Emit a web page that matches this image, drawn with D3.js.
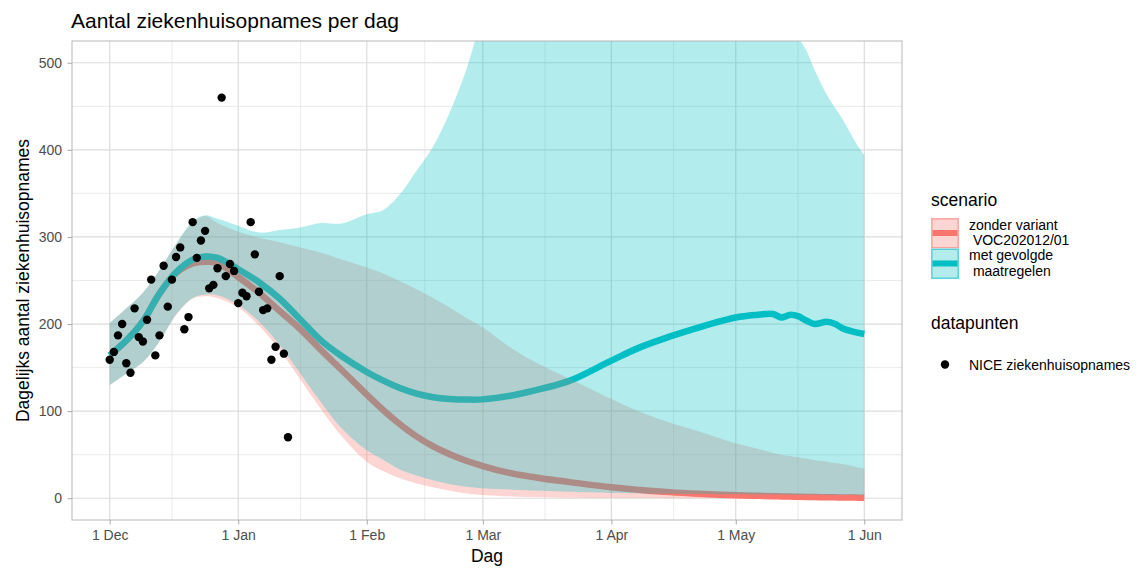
<!DOCTYPE html>
<html><head><meta charset="utf-8">
<script src="https://cdn.jsdelivr.net/npm/d3@7"></script>
<style>
body{margin:0;background:#fff}
svg{display:block}
text{font-family:"Liberation Sans",Arial,Helvetica,sans-serif}
</style>
</head><body>
<svg id="c" width="1140" height="568"></svg>
<script>
// ---------- data ----------
const startDate = [2020, 11, 1]; // 1 Dec 2020 (UTC)
// NICE daily hospital admissions, one per day from 1 Dec
const admissions = [159,168,187,200,155,144,218,185,180,205,251,164,187,267,220,251,277,288,194,208,317,276,296,307,241,245,264,460,255,269,261,224,236,232,317,280,237,216,218,159,174,255,166,70];
// model output, days after 1 Dec
const modelDays = [0,4,8,12,16,20,23,26,31,36,41,46,51,56,62,66,70,74,78,82,86,90,97,104,111,121,128,135,142,151,156,160,162,164,166,168,170,173,175,177,180,182];
const zonderLine = [164,181,203,235,258.5,269.5,271.5,270,254,236,215,194,170,147,119,101,85,71,59.5,50.5,43,37,28.5,23,18.5,12.5,9.5,7,5.2,3.5,2.8,2.3,2.1,1.9,1.7,1.5,1.3,1.1,1,0.9,0.7,0.6];
const zonderLow  = [130,143,156,180,210,229,232,230,219,198,170,136,102,71,42,31,23,17,12.5,8.5,5.5,3.8,2,1.2,0.6,0.3,0.2,0.1,0.1,0,0,0,0,0,0,0,0,0,0,0,0,0];
const zonderHigh = [201,218,236,262,292,316,324,316,306,299,294,288,282,274,265,258,249,240,230,219,207,196,172,153,137,114,99,87,77,63,57,52,50,48.5,47,45.5,44,42,40.5,39,36,34];
const metLine    = [164,181,203,235,259.5,274,277.5,276,263,248,229,205,181,163,145,135,126.5,120,116,114,113.3,113.5,118,125.5,135,158,173.5,185.5,196,207.5,210.5,211.5,207.5,210.5,209,204,200,202.5,200,194.5,190.5,188.5];
const metLow     = [130,143,156,180,211,230,234,233,222,203,176,143,110,80,55,44,33,26,20.5,16,13.2,11.5,9.8,8.5,7.4,6,5.5,5.1,4.8,4.5,4.3,4.2,4.1,4.1,4,4,3.9,3.8,3.7,3.6,3.5,3.4];
const metHigh    = [201,218,236,262,292,318,325,321,313,305,308,311,316,315.5,326,331,349,376,404,443,492,555,640,700,740,760,760,750,720,660,620,580,565,550,530,514.5,492,463,448,433,408,394];
const xTickDays   = [0,31,62,90,121,151,182];
const xTickLabels = ["1 Dec","1 Jan","1 Feb","1 Mar","1 Apr","1 May","1 Jun"];
const yTicks      = [0,100,200,300,400,500];
const yMinorTicks = [50,150,250,350,450];
const scenarioNames  = [["zonder variant"," VOC202012/01"],["met gevolgde"," maatregelen"]];
const scenarioColors = ["#F8766D","#00BFC4"];

// ---------- layout ----------
const P = {l:72, r:902, t:41, b:520};
const day = d => new Date(Date.UTC(startDate[0], startDate[1], startDate[2] + d));
const d0 = day(0), d1 = day(182);
const ext = (d1 - d0) * 0.05;
const x = d3.scaleUtc().domain([new Date(+d0 - ext), new Date(+d1 + ext)]).range([P.l, P.r]);
const y = d3.scaleLinear().domain([-25, 525]).range([P.b, P.t]);

const svg = d3.select("#c");
svg.append("rect").attr("width",1140).attr("height",568).attr("fill","#fff");

// grid
const g = svg.append("g");
const minorX = xTickDays.slice(1).map((d,i)=> (d + xTickDays[i]) / 2);
g.selectAll(".mx").data(minorX).join("line")
  .attr("x1",d=>x(day(d))).attr("x2",d=>x(day(d))).attr("y1",P.t).attr("y2",P.b)
  .attr("stroke","#e3e3e3").attr("stroke-width",0.7);
g.selectAll(".my").data(yMinorTicks).join("line")
  .attr("x1",P.l).attr("x2",P.r).attr("y1",d=>y(d)).attr("y2",d=>y(d))
  .attr("stroke","#e3e3e3").attr("stroke-width",0.7);
g.selectAll(".Mx").data(xTickDays).join("line")
  .attr("x1",d=>x(day(d))).attr("x2",d=>x(day(d))).attr("y1",P.t).attr("y2",P.b)
  .attr("stroke","#dcdcdc").attr("stroke-width",1.2);
g.selectAll(".My").data(yTicks).join("line")
  .attr("x1",P.l).attr("x2",P.r).attr("y1",d=>y(d)).attr("y2",d=>y(d))
  .attr("stroke","#dcdcdc").attr("stroke-width",1.2);

// clip
svg.append("clipPath").attr("id","clip").append("rect")
  .attr("x",P.l).attr("y",P.t).attr("width",P.r-P.l).attr("height",P.b-P.t);
const plot = svg.append("g").attr("clip-path","url(#clip)");

const idx = d3.range(modelDays.length);
const curve = d3.curveCatmullRom.alpha(0.5);
const line = arr => d3.line().curve(curve)
  .x(i=>x(day(modelDays[i]))).y(i=>y(arr[i]))(idx);
const area = (lo,hi) => d3.area().curve(curve)
  .x(i=>x(day(modelDays[i]))).y0(i=>y(lo[i])).y1(i=>y(hi[i]))(idx);

plot.append("path").attr("d",line(zonderLine)).attr("fill","none")
  .attr("stroke",scenarioColors[0]).attr("stroke-width",6.5).attr("stroke-linejoin","round");
plot.append("path").attr("d",line(metLine)).attr("fill","none")
  .attr("stroke",scenarioColors[1]).attr("stroke-width",6.5).attr("stroke-linejoin","round");
plot.append("path").attr("d",area(zonderLow,zonderHigh))
  .attr("fill",scenarioColors[0]).attr("fill-opacity",0.3);
plot.append("path").attr("d",area(metLow,metHigh))
  .attr("fill",scenarioColors[1]).attr("fill-opacity",0.3);

plot.selectAll("circle").data(admissions).join("circle")
  .attr("cx",(v,i)=>x(day(i))).attr("cy",v=>y(v)).attr("r",4.2).attr("fill","#000");

// border
svg.append("rect").attr("x",P.l).attr("y",P.t).attr("width",P.r-P.l).attr("height",P.b-P.t)
  .attr("fill","none").attr("stroke","#b8b8b8").attr("stroke-width",1);

// axes
const ax = svg.append("g").attr("transform",`translate(0,${P.b})`)
  .call(d3.axisBottom(x).tickValues(xTickDays.map(day)).tickFormat((d,i)=>xTickLabels[i]).tickSize(4.5).tickPadding(6));
const ay = svg.append("g").attr("transform",`translate(${P.l},0)`)
  .call(d3.axisLeft(y).tickValues(yTicks).tickFormat(d3.format("d")).tickSize(4.5).tickPadding(5.5));
[ax,ay].forEach(a=>{
  a.select(".domain").remove();
  a.selectAll(".tick line").attr("stroke","#a8a8a8");
  a.selectAll(".tick text").attr("fill","#4d4d4d").style("font-size","14px")
   .style("font-family",'"Liberation Sans",Arial,sans-serif');
});

// titles
svg.append("text").attr("x",71).attr("y",28.3).attr("font-size","21px").attr("fill","#000")
  .text("Aantal ziekenhuisopnames per dag");
svg.append("text").attr("x",(P.l+P.r)/2).attr("y",562).attr("text-anchor","middle")
  .attr("font-size","17.5px").attr("fill","#000").text("Dag");
svg.append("text").attr("transform",`translate(29,${(P.t+P.b)/2}) rotate(-90)`)
  .attr("text-anchor","middle").attr("font-size","17.5px").attr("fill","#000")
  .text("Dagelijks aantal ziekenhuisopnames");

// legend
const L = svg.append("g");
L.append("text").attr("x",931).attr("y",206).attr("font-size","17.5px").text("scenario");
scenarioNames.forEach((lab,k)=>{
  const ky = 218 + k*30.5;
  L.append("rect").attr("x",931).attr("y",ky).attr("width",28).attr("height",30.5)
    .attr("fill","#fff");
  L.append("rect").attr("x",931.75).attr("y",ky+0.75).attr("width",26.5).attr("height",29)
    .attr("fill",scenarioColors[k]).attr("fill-opacity",0.3)
    .attr("stroke",scenarioColors[k]).attr("stroke-opacity",0.6).attr("stroke-width",1.5);
  L.append("line").attr("x1",932.5).attr("x2",957.5).attr("y1",ky+15).attr("y2",ky+15)
    .attr("stroke",scenarioColors[k]).attr("stroke-width",6);
  lab.forEach((t,j)=>{
    L.append("text").attr("x",969).attr("y",ky+11.5+j*15.5).attr("font-size","14px")
      .attr("fill","#000").style("white-space","pre").attr("xml:space","preserve").text(t);
  });
});
L.append("text").attr("x",931).attr("y",328.5).attr("font-size","17.5px").text("datapunten");
L.append("circle").attr("cx",945).attr("cy",364.5).attr("r",4.2).attr("fill","#000");
L.append("text").attr("x",969).attr("y",369.5).attr("font-size","14px").text("NICE ziekenhuisopnames");
</script>
</body></html>
